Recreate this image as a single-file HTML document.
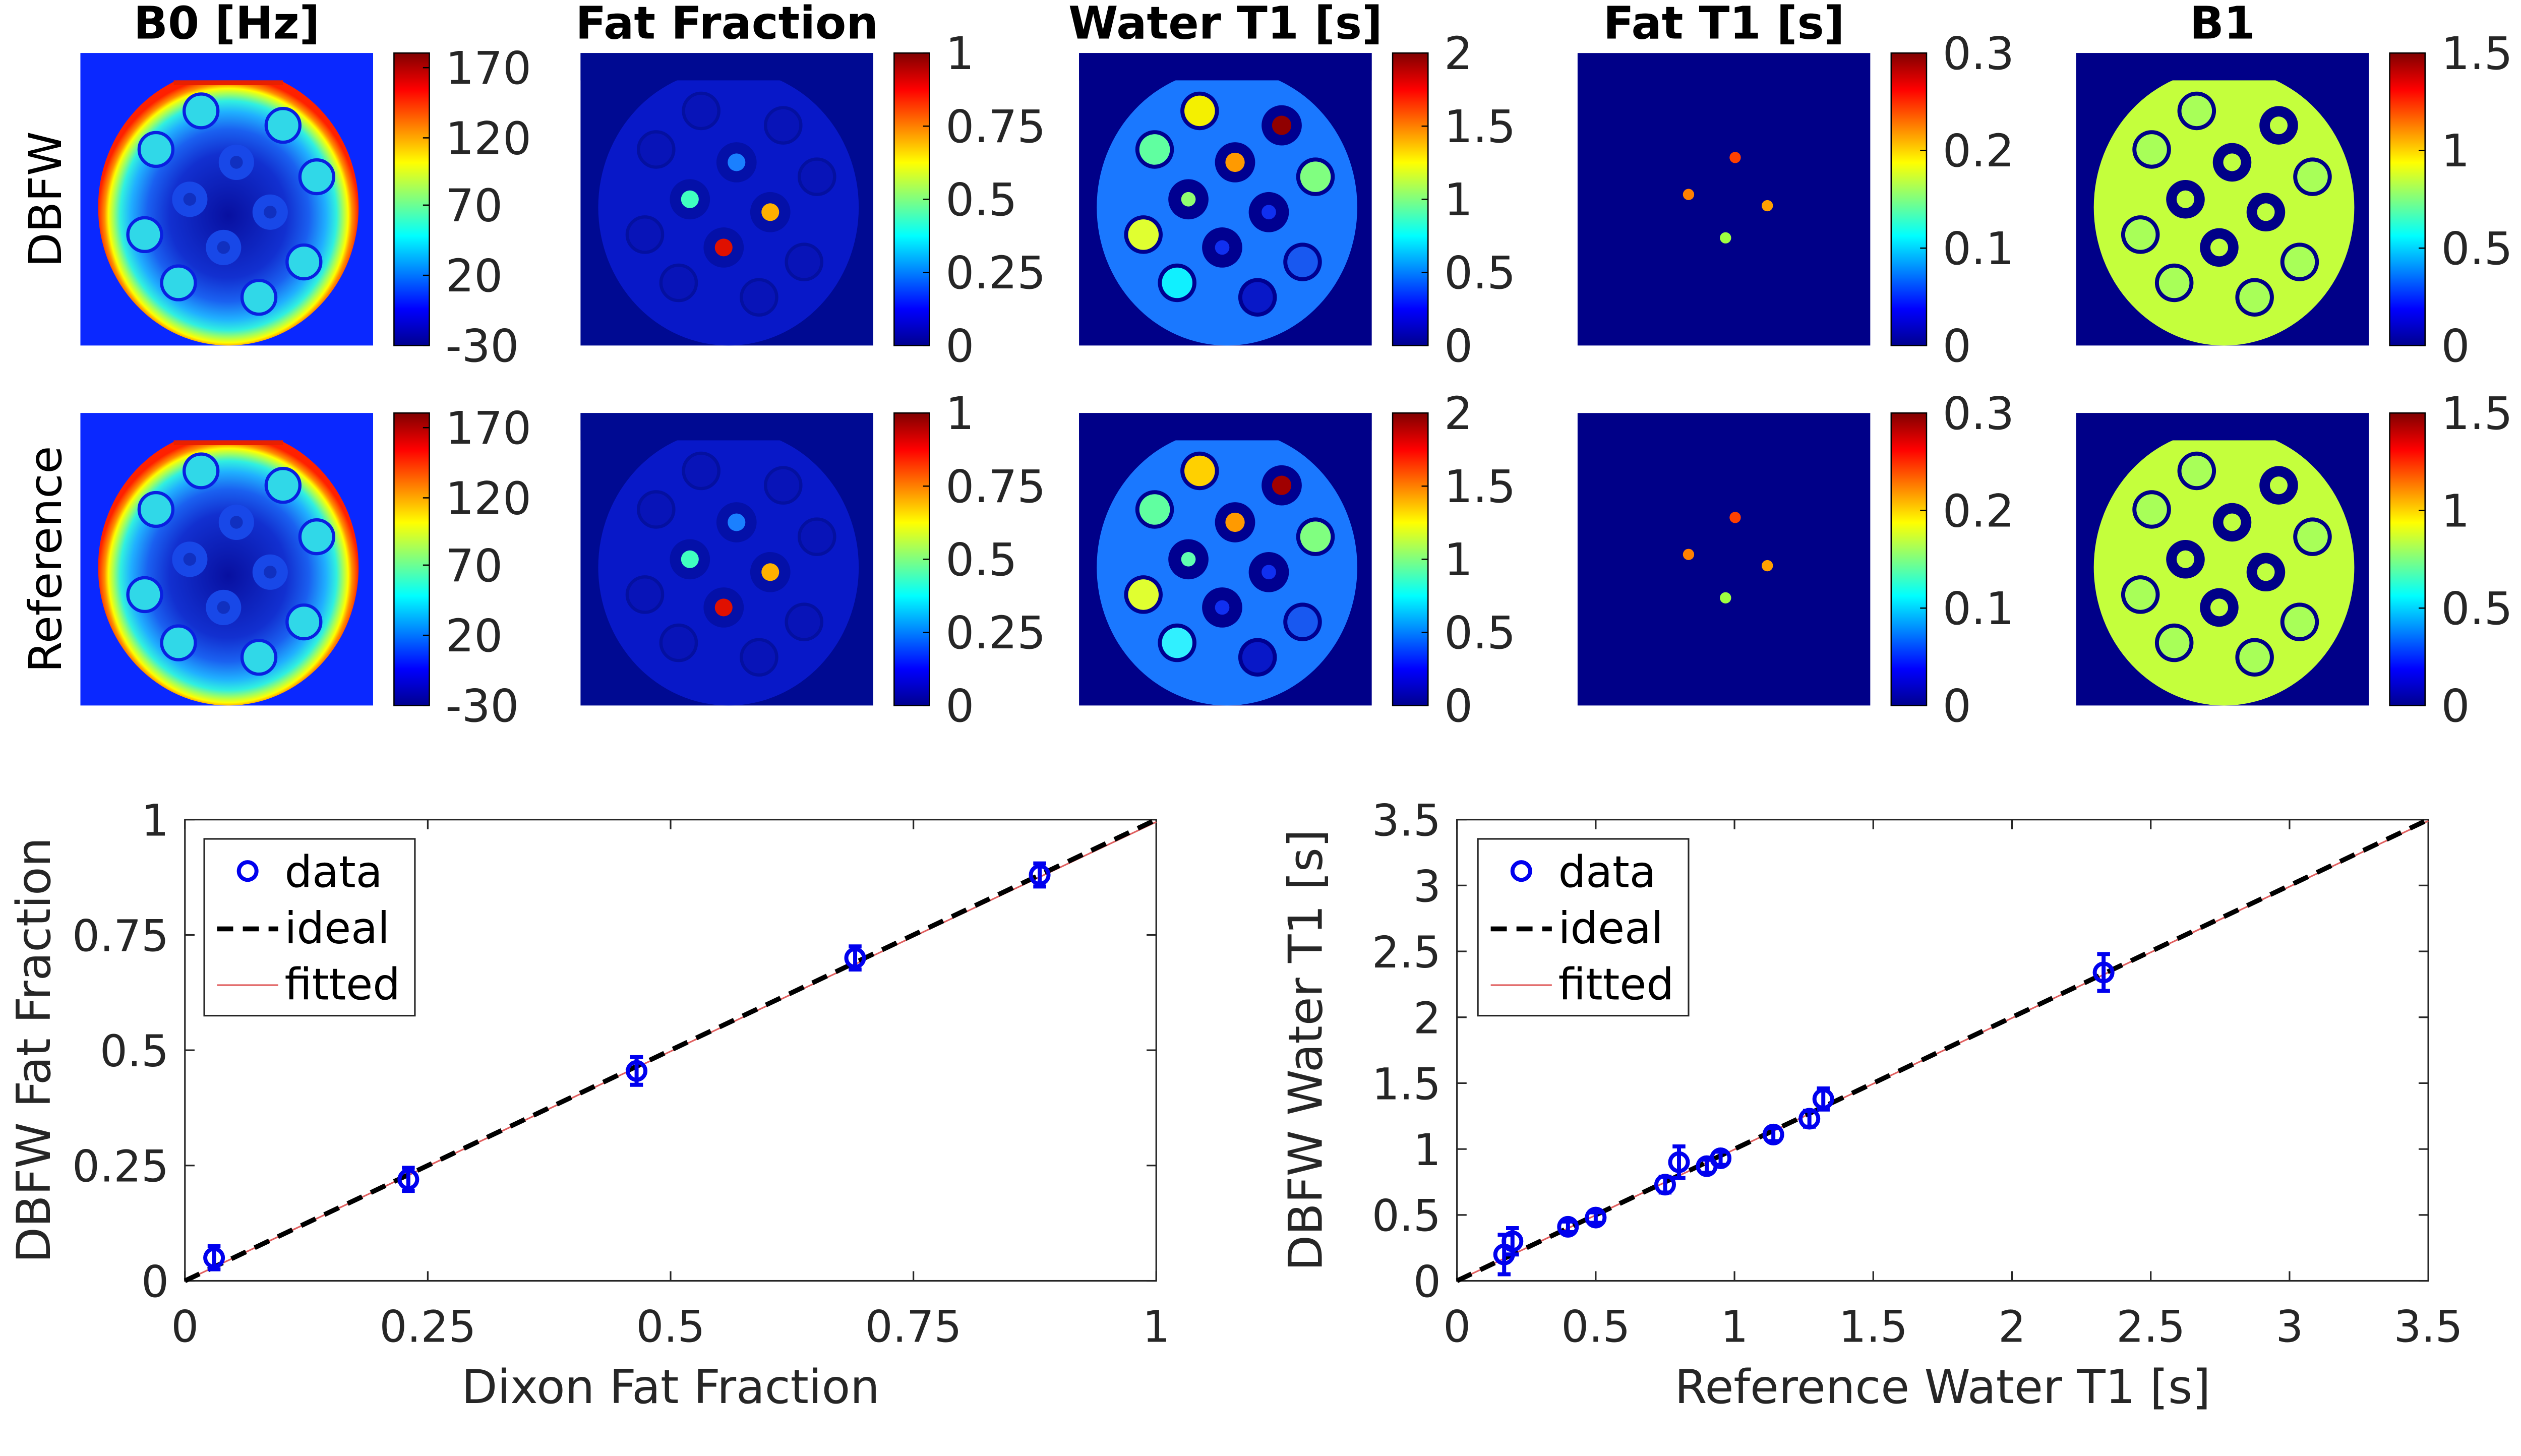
<!DOCTYPE html>
<html><head><meta charset="utf-8">
<style>
html,body{margin:0;padding:0;background:#fff;overflow:hidden;}
svg{display:block;font-family:"DejaVu Sans","Liberation Sans",sans-serif;}
</style></head>
<body>
<svg id="fig" width="5151" height="2888" viewBox="0 0 1615 906" preserveAspectRatio="none" xmlns="http://www.w3.org/2000/svg">
<defs>
<linearGradient id="jet" x1="0" y1="1" x2="0" y2="0">
<stop offset="0" stop-color="#00008f"/><stop offset="0.125" stop-color="#0000ff"/>
<stop offset="0.375" stop-color="#00ffff"/><stop offset="0.625" stop-color="#ffff00"/>
<stop offset="0.875" stop-color="#ff0000"/><stop offset="1" stop-color="#800000"/>
</linearGradient>
<radialGradient id="b0g" cx="0.5" cy="0.53" r="0.5">
<stop offset="0" stop-color="#0810a0"/><stop offset="0.45" stop-color="#1230d0"/>
<stop offset="0.62" stop-color="#1a60f0"/><stop offset="0.75" stop-color="#20b0ff"/>
<stop offset="0.83" stop-color="#30f0e0"/><stop offset="0.88" stop-color="#a0ff60"/>
<stop offset="0.92" stop-color="#ffff00"/><stop offset="0.95" stop-color="#ff9000"/>
<stop offset="1" stop-color="#ff2000"/>
</radialGradient>
</defs>
<g id="maps"></g>
<g id="chartL"></g>
<g id="chartR"></g>
</svg>
<script>
const NS="http://www.w3.org/2000/svg";
function mk(parent,tag,attrs,text){const e=document.createElementNS(NS,tag);for(const k in attrs)e.setAttribute(k,attrs[k]);if(text!==undefined)e.textContent=text;parent.appendChild(e);return e;}

const mapTitles=["B0 [Hz]","Fat Fraction","Water T1 [s]","Fat T1 [s]","B1"];
const mapX=[50,361,671,981,1291];
const rowY=[33,257];
const rowLabels=["DBFW","Reference"];
const cbTicks=[["170","120","70","20","-30"],["1","0.75","0.5","0.25","0"],["2","1.5","1","0.5","0"],["0.3","0.2","0.1","0"],["1.5","1","0.5","0"]];
const cbTickFrac=[[0.95,0.71,0.48,0.24,0],[1,0.75,0.5,0.25,0],[1,0.75,0.5,0.25,0],[1,0.667,0.333,0],[1,0.667,0.333,0]];
const vials=[[75,36],[126,45],[47,60],[97,68],[147,77],[68,91],[118,99],[40,113],[89,121],[139,130],[61,143],[111,152]];
const thickB1=[1,3,5,6,8];
const thickWT=[1,3,5,6,8];
const thickFF=[3,5,6,8];
const wtInner=["#f4f000","#900000","#60ffa0","#ff9a00","#80ff80","#90ff70","#1030f0","#e0ff30","#1030f0","#1858f0","#10f0ff","#0818c8"];
const wtInnerR=["#ffd000","#a00000","#60ffa0","#ff9a00","#80ff80","#60ffb0","#1030f0","#e0ff30","#1030f0","#1858f0","#30f0ff","#0818c8"];
const ffDots=[[97,68,"#1a80ff"],[68,91,"#40ffc0"],[118,99,"#ffb000"],[89,121,"#e01000"]];
const ftDots=[[98,65,"#ff4000"],[69,88,"#ff8000"],[118,95,"#ffa000"],[92,115,"#a0ff40"]];
const mg=document.getElementById('maps');
mapTitles.forEach((t,i)=>{
  const tt=mk(mg,'text',{x:mapX[i]+91,y:24,'text-anchor':'middle','font-size':28,'font-weight':'bold'},t);
  
});
rowLabels.forEach((t,r)=>{
  const tl=mk(mg,'text',{x:0,y:0,transform:`translate(38,${rowY[r]+91}) rotate(-90)`,'text-anchor':'middle','font-size':28},t);
  
});
function disk(g,x,y,fill,bg){
  mk(g,'ellipse',{cx:x+92,cy:y+96,rx:81,ry:86,fill:fill});
  mk(g,'rect',{x:x,y:y,width:182,height:17,fill:bg});
}
for(let r=0;r<2;r++){
  const y=rowY[r];
  for(let i=0;i<5;i++){
    const x=mapX[i];
    const g=mk(mg,'g',{});
    
    const bg=i===0?"#0a28ff":(i===1?"#000a92":"#000088");
    mk(g,'rect',{x:x,y:y,width:182,height:182,fill:bg});
    if(i===0){
      disk(g,x,y,"url(#b0g)",bg);
      mk(g,'rect',{x:x+58,y:y+17,width:68,height:3,fill:"#e82000"});
      vials.forEach((v,k)=>{
        if([3,5,6,8].includes(k)){
          mk(g,'circle',{cx:x+v[0],cy:y+v[1],r:11,fill:"#1848e8"});
          mk(g,'circle',{cx:x+v[0],cy:y+v[1],r:4,fill:"#1030c0"});
        } else {
          mk(g,'circle',{cx:x+v[0],cy:y+v[1],r:10.5,fill:"#30d8e8",stroke:"#0a20e0",'stroke-width':2});
        }
      });
    } else if(i===1){
      disk(g,x,y,"#0818c8",bg);
      vials.forEach((v,k)=>{
        if(thickFF.includes(k)) mk(g,'circle',{cx:x+v[0],cy:y+v[1],r:12.5,fill:"#0410a8"});
        else mk(g,'circle',{cx:x+v[0],cy:y+v[1],r:11,fill:"#0814b8",stroke:"#0410a0",'stroke-width':2});
      });
      ffDots.forEach(d=>mk(g,'circle',{cx:x+d[0],cy:y+d[1],r:5.5,fill:d[2]}));
    } else if(i===2){
      disk(g,x,y,"#1a78ff",bg);
      const cols=r===0?wtInner:wtInnerR;
      vials.forEach((v,k)=>{
        const thick=thickWT.includes(k);
        mk(g,'circle',{cx:x+v[0],cy:y+v[1],r:thick?12.5:12,fill:"#000090"});
        mk(g,'circle',{cx:x+v[0],cy:y+v[1],r:thick?(k===1||k===3?6:4.5):9.5,fill:cols[k]});
      });
    } else if(i===3){
      ftDots.forEach(d=>mk(g,'circle',{cx:x+d[0],cy:y+d[1],r:3.5,fill:d[2]}));
    } else {
      disk(g,x,y,"#c4ff3c",bg);
      vials.forEach((v,k)=>{
        const thick=thickB1.includes(k);
        mk(g,'circle',{cx:x+v[0],cy:y+v[1],r:12,fill:"#000088"});
        mk(g,'circle',{cx:x+v[0],cy:y+v[1],r:thick?5.5:9.5,fill:thick?"#c0ff40":"#a8ff58"});
      });
    }
    const cx=x+195;
    const cb=mk(mg,'rect',{x:cx,y:y,width:22,height:182,fill:"url(#jet)",stroke:"#000",'stroke-width':0.8});
    
    cbTicks[i].forEach((lab,k)=>{
      const ty=y+182-cbTickFrac[i][k]*182;
      mk(mg,'line',{x1:cx+18,x2:cx+22,y1:ty,y2:ty,stroke:"#000",'stroke-width':0.8});
      const tx=mk(mg,'text',{x:cx+32,y:ty+10,'font-size':28,fill:"#262626"},lab);
      
    });
  }
}

const ffX=[0.03,0.23,0.465,0.69,0.88];
const ffY=[0.05,0.22,0.455,0.70,0.88];
const ffErr=[0.025,0.025,0.03,0.025,0.025];
const ffTicks=["0","0.25","0.5","0.75","1"];
const ffTickVals=[0,0.25,0.5,0.75,1];
const ffFit=[0,0.995];

const wtX=[0.17,0.2,0.4,0.5,0.75,0.8,0.9,0.95,1.14,1.27,1.32,2.33];
const wtY=[0.2,0.3,0.41,0.48,0.73,0.9,0.87,0.93,1.11,1.23,1.38,2.34];
const wtErr=[0.15,0.1,0.04,0.04,0.06,0.12,0.05,0.05,0.05,0.06,0.08,0.14];
const wtTicks=["0","0.5","1","1.5","2","2.5","3","3.5"];
const wtTickVals=[0,0.5,1,1.5,2,2.5,3,3.5];
const wtFit=[0,3.49];

function chart(gid,x0,x1,y0,y1,max,xs,ys,es,tl,tv,fit,xlabel,ylabel,lx){
  const g=document.getElementById(gid);
  const sx=v=>x0+(v/max)*(x1-x0), sy=v=>y0-(v/max)*(y0-y1);
  const ax=mk(g,'rect',{x:x0,y:y1,width:x1-x0,height:y0-y1,fill:"none",stroke:"#262626",'stroke-width':1});
  
  tv.forEach((v,k)=>{
    mk(g,'line',{x1:sx(v),x2:sx(v),y1:y0,y2:y0-6,stroke:"#262626",'stroke-width':1});
    mk(g,'line',{x1:sx(v),x2:sx(v),y1:y1,y2:y1+6,stroke:"#262626",'stroke-width':1});
    mk(g,'line',{x1:x0,x2:x0+6,y1:sy(v),y2:sy(v),stroke:"#262626",'stroke-width':1});
    mk(g,'line',{x1:x1,x2:x1-6,y1:sy(v),y2:sy(v),stroke:"#262626",'stroke-width':1});
    const xt=mk(g,'text',{x:sx(v),y:y0+38,'text-anchor':'middle','font-size':27,fill:"#262626"},tl[k]);
    
    const yt=mk(g,'text',{x:x0-10,y:sy(v)+10,'text-anchor':'end','font-size':27,fill:"#262626"},tl[k]);
    
  });
  const xl=mk(g,'text',{x:(x0+x1)/2,y:y0+76,'text-anchor':'middle','font-size':29,fill:"#262626"},xlabel);
  
  const yl=mk(g,'text',{x:0,y:0,transform:`translate(${x0-84},${(y0+y1)/2}) rotate(-90)`,'text-anchor':'middle','font-size':29,fill:"#262626"},ylabel);
  
  const fl=mk(g,'line',{x1:sx(fit[0]),y1:sy(fit[0]),x2:sx(max),y2:sy(fit[1]),stroke:"#e06060",'stroke-width':1});
  
  const il=mk(g,'line',{x1:sx(0),y1:sy(0),x2:sx(max),y2:sy(max),stroke:"#000",'stroke-width':3,'stroke-dasharray':'10 6'});
  
  xs.forEach((v,k)=>{
    const pg=mk(g,'g',{stroke:"#0000ee",'stroke-width':2.5,fill:"none"});
    
    const px=sx(v),py=sy(ys[k]),ye1=sy(ys[k]+es[k]),ye0=sy(ys[k]-es[k]);
    mk(pg,'line',{x1:px,x2:px,y1:ye1,y2:ye0});
    mk(pg,'line',{x1:px-4,x2:px+4,y1:ye1,y2:ye1});
    mk(pg,'line',{x1:px-4,x2:px+4,y1:ye0,y2:ye0});
    mk(pg,'circle',{cx:px,cy:py,r:5.5});
  });
  const lg=mk(g,'g',{});
  
  mk(lg,'rect',{x:lx,y:522,width:131,height:110,fill:"#fff",stroke:"#262626",'stroke-width':1});
  mk(lg,'circle',{cx:lx+27,cy:542,r:5.5,fill:"none",stroke:"#0000ee",'stroke-width':2.5});
  mk(lg,'line',{x1:lx+8,x2:lx+46,y1:578,y2:578,stroke:"#000",'stroke-width':3,'stroke-dasharray':'10 6'});
  mk(lg,'line',{x1:lx+8,x2:lx+46,y1:613,y2:613,stroke:"#e06060",'stroke-width':1});
  ["data","ideal","fitted"].forEach((t,k)=>{
    const e=mk(lg,'text',{x:lx+50,y:552+k*35,'font-size':27,fill:"#000"},t);
    
  });
}
chart('chartL',115,719,797,510,1,ffX,ffY,ffErr,ffTicks,ffTickVals,ffFit,"Dixon Fat Fraction","DBFW Fat Fraction",127);
chart('chartR',906,1510,797,510,3.5,wtX,wtY,wtErr,wtTicks,wtTickVals,wtFit,"Reference Water T1 [s]","DBFW Water T1 [s]",919);
</script>
</body></html>
